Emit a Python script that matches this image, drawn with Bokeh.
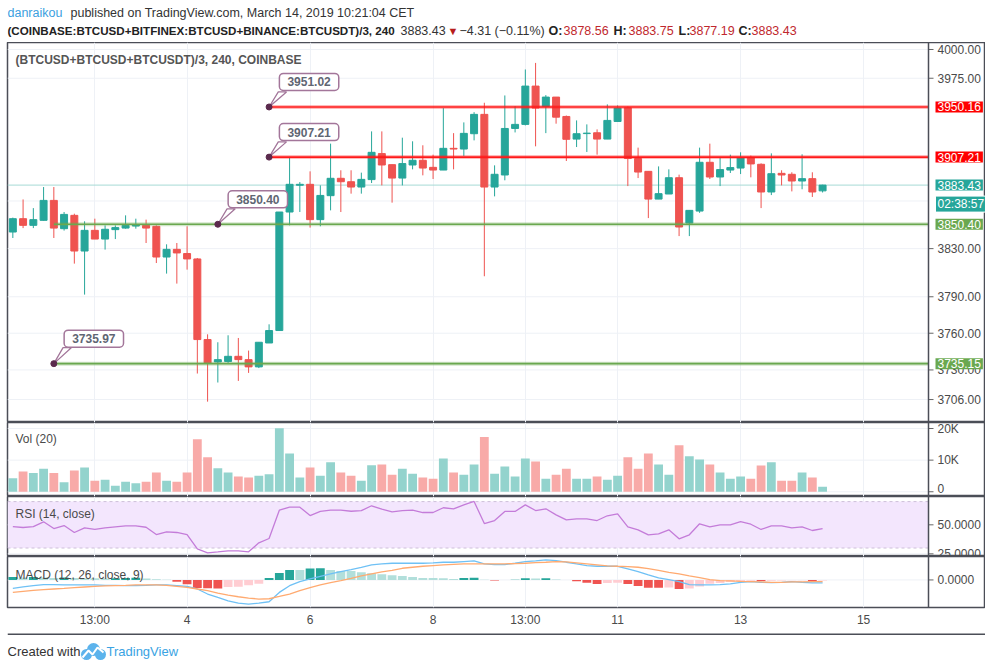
from bokeh.plotting import figure
from bokeh.models import ColumnDataSource, Range1d, FixedTicker, Label, Span, BoxAnnotation
from bokeh.layouts import column
from bokeh.embed import file_html
from bokeh.resources import INLINE
from bokeh.core.properties import value

# ---------------- data (4h candles, index 0 = Mar 1 05:00 CET) ----------------
OPEN = [3843.9, 3855.1, 3849.5, 3853.7, 3870.5, 3846.7, 3857.9, 3828.0, 3845.3, 3838.0,
        3845.9, 3847.2, 3848.9, 3849.5, 3848.7, 3823.0, 3829.4, 3825.9, 3821.4, 3754.8,
        3736.5, 3736.9, 3741.1, 3738.4, 3732.5, 3752.0, 3762.2, 3860.7, 3883.3, 3884.1,
        3854.3, 3874.5, 3889.2, 3886.3, 3881.8, 3888.1, 3910.2, 3900.8, 3889.4, 3900.5,
        3904.5, 3898.5, 3896.2, 3914.7, 3914.1, 3927.2, 3943.8, 3881.8, 3892.0, 3931.7,
        3935.2, 3968.2, 3950.6, 3958.7, 3942.0, 3922.6, 3927.3, 3928.0, 3922.6, 3937.7,
        3949.5, 3906.0, 3895.1, 3871.6, 3875.9, 3889.7, 3851.4, 3861.5, 3902.8, 3890.3,
        3896.2, 3897.9, 3906.5, 3901.1, 3877.6, 3893.4, 3892.6, 3886.9, 3888.9, 3878.56]
HIGH = [3856.0, 3871.3, 3864.0, 3881.8, 3881.8, 3860.7, 3859.3, 3852.9, 3855.1, 3849.5,
        3849.5, 3857.9, 3855.1, 3854.3, 3849.5, 3833.6, 3834.7, 3848.7, 3822.2, 3759.1,
        3752.6, 3758.3, 3756.1, 3745.8, 3752.6, 3767.3, 3860.7, 3906.8, 3886.0, 3895.1,
        3883.2, 3918.7, 3896.0, 3896.0, 3894.0, 3929.2, 3929.2, 3900.8, 3923.8, 3920.7,
        3917.3, 3909.3, 3949.2, 3927.7, 3936.9, 3945.7, 3953.8, 3900.2, 3960.1, 3950.9,
        3982.6, 3988.3, 3960.4, 3958.7, 3942.8, 3938.6, 3935.2, 3930.9, 3952.4, 3951.5,
        3950.6, 3915.3, 3895.1, 3899.3, 3896.8, 3892.3, 3862.1, 3915.3, 3918.7, 3906.5,
        3909.3, 3911.3, 3908.5, 3901.9, 3910.4, 3896.0, 3894.3, 3909.6, 3894.3, 3883.75]
LOW = [3838.9, 3847.2, 3847.2, 3853.5, 3838.9, 3845.1, 3817.5, 3791.8, 3838.0, 3829.2,
       3838.0, 3846.7, 3846.7, 3834.7, 3818.0, 3809.2, 3800.9, 3812.5, 3727.1, 3704.3,
       3719.8, 3735.7, 3721.1, 3727.6, 3731.5, 3752.0, 3762.2, 3849.5, 3860.7, 3847.6,
       3848.7, 3862.1, 3860.7, 3876.2, 3876.2, 3885.2, 3883.2, 3868.6, 3883.2, 3896.8,
       3891.7, 3888.6, 3896.2, 3896.8, 3908.2, 3921.5, 3807.0, 3873.9, 3887.5, 3928.3,
       3934.3, 3916.4, 3927.7, 3935.8, 3903.9, 3915.8, 3911.6, 3909.3, 3922.6, 3937.7,
       3882.6, 3889.4, 3855.6, 3871.6, 3875.9, 3840.5, 3840.5, 3860.0, 3888.6, 3882.6,
       3893.7, 3892.8, 3890.0, 3864.0, 3875.0, 3883.2, 3878.1, 3879.9, 3873.4, 3877.19]
CLOSE = [3855.1, 3849.5, 3854.3, 3870.5, 3847.2, 3858.7, 3828.0, 3845.3, 3838.0, 3846.2,
         3847.6, 3849.5, 3850.1, 3847.2, 3823.0, 3829.4, 3826.4, 3821.4, 3754.8, 3735.7,
         3738.4, 3741.1, 3738.4, 3732.5, 3752.6, 3762.2, 3860.7, 3884.1, 3884.1, 3854.3,
         3874.7, 3889.2, 3886.3, 3881.8, 3888.3, 3911.3, 3900.5, 3889.4, 3901.7, 3904.5,
         3897.9, 3896.2, 3914.7, 3914.1, 3927.5, 3943.8, 3881.8, 3892.6, 3931.7, 3935.2,
         3968.2, 3949.2, 3958.7, 3941.4, 3922.4, 3927.2, 3927.7, 3922.6, 3938.6, 3949.2,
         3906.0, 3894.5, 3871.6, 3876.2, 3889.7, 3848.1, 3862.1, 3902.8, 3890.3, 3896.6,
         3898.3, 3906.5, 3901.4, 3877.6, 3893.1, 3892.0, 3886.9, 3888.9, 3877.6, 3883.43]
VOLUME = [4300, 6400, 5900, 7300, 5900, 3000, 6700, 7700, 3500, 3800,
          1900, 3200, 2700, 3200, 6100, 3500, 3200, 6100, 16600, 10900,
          7400, 6100, 4800, 4500, 5100, 5500, 20100, 12100, 4500, 7700,
          5100, 9300, 6100, 5100, 3500, 8400, 8600, 5400, 7300, 5700,
          4500, 4100, 10500, 6100, 5400, 8600, 17300, 5700, 8000, 4800,
          10500, 9600, 4100, 5400, 7300, 4100, 4100, 4800, 3800, 5100,
          10900, 7300, 12100, 8600, 5400, 14700, 11200, 10200, 8600, 6100,
          4100, 4800, 4100, 8300, 9300, 3500, 3500, 6100, 4500, 1600]
RSI = [48.5, 47.7, 48.5, 52.6, 46.8, 49.4, 43.4, 47.4, 46.0, 47.4,
       48.3, 49.1, 49.1, 47.9, 41.6, 44.0, 43.4, 41.6, 29.3, 25.9,
       26.7, 27.6, 27.6, 26.7, 34.5, 38.2, 62.6, 65.2, 65.2, 58.0,
       61.5, 62.6, 62.6, 61.7, 62.2, 66.4, 63.5, 61.2, 62.2, 62.6,
       60.6, 60.6, 64.7, 63.8, 67.2, 70.1, 51.1, 53.7, 61.5, 61.5,
       67.2, 62.3, 63.8, 58.6, 54.3, 55.2, 55.2, 53.7, 57.8, 59.5,
       48.3, 45.7, 41.4, 42.2, 45.7, 37.9, 41.4, 50.9, 48.3, 50.0,
       50.0, 52.8, 50.5, 46.0, 49.1, 49.1, 47.4, 48.3, 45.1, 46.8]
MACD = [-8.4, -7.0, -5.7, -4.7, -4.7, -5.0, -5.0, -5.0, -5.0, -5.4,
        -5.4, -5.7, -5.7, -5.4, -5.0, -5.0, -5.7, -6.4, -9.0, -14.0,
        -17.4, -20.7, -23.0, -24.0, -23.0, -21.7, -12.4, -5.7, -1.7, 1.0,
        3.6, 6.0, 8.3, 10.3, 12.6, 15.0, 16.0, 16.6, 16.6, 16.6,
        16.6, 17.0, 17.6, 17.6, 18.3, 19.0, 16.0, 15.3, 15.3, 16.6,
        18.3, 19.0, 20.0, 19.3, 17.6, 16.0, 14.3, 13.6, 13.6, 13.6,
        11.0, 8.3, 5.0, 2.0, 0.3, -1.7, -4.7, -5.0, -5.0, -4.7,
        -4.0, -2.4, -1.7, -2.4, -2.7, -2.4, -1.7, -2.4, -3.0, -3.0]
SIGNAL = [-12.4, -11.4, -10.4, -9.7, -9.0, -8.4, -7.7, -7.0, -6.4, -6.0,
          -5.7, -5.4, -5.0, -5.0, -5.0, -5.4, -6.4, -7.4, -9.0, -10.7,
          -13.0, -15.0, -16.7, -18.0, -19.0, -18.7, -16.4, -14.0, -10.7, -7.7,
          -5.0, -2.7, -0.7, 1.6, 4.0, 6.0, 8.0, 9.6, 11.6, 12.6,
          13.6, 14.3, 15.0, 15.5, 16.0, 16.0, 16.0, 16.0, 16.0, 16.3,
          16.6, 17.3, 17.6, 18.3, 18.0, 17.0, 16.0, 15.0, 14.0, 13.6,
          13.3, 12.6, 11.3, 9.6, 7.6, 6.0, 4.0, 2.3, 0.3, -0.7,
          -1.0, -1.4, -1.7, -2.0, -2.4, -2.4, -2.0, -2.0, -1.7, -1.7]
HIST = [3.0, 2.5, 3.0, 2.5, 2.0, 2.3, 2.0, 1.8, 1.6, 1.5,
        1.8, 2.0, 2.1, 1.5, 0.6, 0.2, -1.7, -4.3, -8.0, -8.3,
        -8.5, -7.0, -6.8, -5.3, -3.7, 2.0, 7.0, 10.0, 9.8, 11.3,
        11.6, 10.0, 9.0, 8.8, 7.7, 6.7, 5.7, 4.7, 4.0, 3.0,
        2.0, 1.9, 1.8, 1.0, 2.0, 2.1, 0.3, -0.6, 0.0, 0.1,
        1.7, 1.5, 1.8, 0.5, 0.05, -1.3, -2.7, -4.0, -3.0, -2.7,
        -4.0, -6.0, -7.7, -7.8, -7.5, -9.0, -8.5, -6.5, -3.7, -3.0,
        -2.0, -1.0, -0.7, -1.0, -0.7, -0.5, -0.4, -0.3, -1.0, -0.6]

X_TICKS = [8, 17, 29, 41, 50, 59, 71, 83]
X_LABELS = ["13:00", "4", "6", "8", "13:00", "11", "13", "15"]
PRICE_TICKS = [3706, 3730, 3760, 3790, 3830, 3975, 4000]
PRICE_GRID = [3706, 3730, 3760, 3790, 3830, 3870, 3975, 4000]
VOL_TICKS = [0, 10000, 20000]
VOL_LABELS = ["0", "10K", "20K"]
RSI_TICKS = [25, 50]
MACD_TICKS = [0]

LEVEL_PRICE = [3950.16, 3907.21, 3850.40, 3735.15]
LEVEL_START = [25, 25, 4, 4]
LEVEL_KIND = ["red", "red", "green", "green"]
CALLOUT_IDX = [25, 25, 20, 4]
CALLOUT_PRICE = [3950.16, 3907.21, 3850.40, 3735.15]
CALLOUT_TEXT = ["3951.02", "3907.21", "3850.40", "3735.97"]
LAST_PRICE = 3883.43
TIMER_TEXT = "02:38:57"

# ---------------- styles / geometry ----------------
FONT = "Liberation Sans"
TEAL = "#26a69a"
RED = "#ef5350"
LINE_RED = "#ff1a1a"
LINE_GREEN = "#6aa84f"
BORDER = "#4b4e57"
GRID = "#eef1f6"
AXIS_TXT = "#4a4a4a"
LEFT = 7            # left page offset of the chart frames
PANE_W = 921        # plotting area width (px)
FULL_W = 978        # plotting area + price scale column (px)
PX_BAR = 10.25      # px per candle
X0 = -0.52
XR = Range1d(X0, X0 + FULL_W / PX_BAR)
AXIS_X = X0 + PANE_W / PX_BAR
TICK_LEN = 5 / PX_BAR

n = len(CLOSE)
IDX = list(range(n))
UP = [c >= o for o, c in zip(OPEN, CLOSE)]
cand_col = [TEAL if u else RED for u in UP]
vol_col = ["#93d3cd" if u else "#f8aaa8" for u in UP]
hist_col = []
prev = None
for h in HIST:
    if h >= 0:
        hist_col.append("#26a69a" if (prev is None or h >= prev) else "#b2dfdb")
    else:
        hist_col.append("#ef5350" if (prev is not None and h < prev) else "#ffcdd2")
    prev = h


def pane(h, yr, ylog=False, xaxis=False):
    p = figure(frame_width=FULL_W, frame_height=h, x_range=XR, y_range=yr,
               y_axis_type="log" if ylog else "linear", y_axis_location=None,
               x_axis_location="below" if xaxis else None,
               output_backend="svg", toolbar_location=None,
               min_border_left=LEFT, min_border_right=0, min_border_top=0,
               min_border_bottom=26 if xaxis else 0)
    p.outline_line_color = BORDER
    p.outline_line_width = 1.5
    p.background_fill_color = "white"
    p.border_fill_color = "white"
    p.ygrid.visible = False
    p.xgrid.grid_line_color = GRID
    p.xgrid.ticker = FixedTicker(ticks=X_TICKS)
    if xaxis:
        xa = p.xaxis[0]
        xa.ticker = FixedTicker(ticks=X_TICKS)
        xa.major_label_overrides = {t: l for t, l in zip(X_TICKS, X_LABELS)}
        xa.axis_line_color = None
        xa.major_tick_line_color = None
        xa.minor_tick_line_color = None
        xa.major_tick_out = 0
        xa.major_tick_in = 0
        xa.minor_tick_out = 0
        xa.major_label_standoff = 5
        xa.major_label_text_font = FONT
        xa.major_label_text_font_size = "12px"
        xa.major_label_text_color = AXIS_TXT
    return p


def price_scale(p, ticks, labels, grid_ticks=None, label_dy=None):
    gt = grid_ticks if grid_ticks is not None else ticks
    dy = label_dy if label_dy is not None else [0] * len(ticks)
    p.segment(x0=[X0] * len(gt), x1=[AXIS_X] * len(gt), y0=gt, y1=gt,
              line_color=GRID, line_width=1, level="underlay")
    p.segment(x0=[AXIS_X] * len(ticks), x1=[AXIS_X + TICK_LEN] * len(ticks), y0=ticks, y1=ticks,
              line_color="#666666", line_width=1)
    p.text(x=[AXIS_X] * len(ticks), y=ticks, text=labels, x_offset=9, y_offset=dy,
           text_font=value(FONT), text_font_size=value("12px"), text_color=AXIS_TXT,
           text_baseline="middle", text_align="left")
    p.add_layout(Span(location=AXIS_X, dimension="height", line_color=BORDER, line_width=1.5))


def pane_title(p, text, yr, dy, bold=False, color="#4a4a4a"):
    p.add_layout(Label(x=X0, y=yr.end, x_offset=8, y_offset=-dy, text=text,
                       text_font=FONT, text_font_size="12px", text_color=color,
                       text_font_style="bold" if bold else "normal",
                       text_baseline="middle", text_align="left"))


def strip(h):
    p = figure(frame_width=FULL_W, frame_height=h, x_range=Range1d(0, FULL_W), y_range=Range1d(0, h),
               x_axis_location=None, y_axis_location=None, min_border=0, min_border_left=LEFT,
               output_backend="svg", toolbar_location=None)
    p.outline_line_color = None
    p.grid.visible = False
    p.background_fill_color = "white"
    p.border_fill_color = "white"
    return p


# ---------------- header ----------------
hdr = strip(42)
H1 = [("danraikou", "#3ba0e0", "normal", 0),
      ("published on TradingView.com, March 14, 2019 10:21:04 CET", "#333333", "normal", 63)]
for t, c, s, x in H1:
    hdr.add_layout(Label(x=x, y=30, x_units="screen", y_units="screen", text=t, text_color=c,
                         text_font=FONT, text_font_size="12.5px", text_font_style=s,
                         text_baseline="middle"))
H2 = [("(COINBASE:BTCUSD+BITFINEX:BTCUSD+BINANCE:BTCUSDT)/3, 240", "#222222", "bold", 0, "11.6px"),
      ("3883.43", "#333333", "normal", 393, "12.5px"),
      ("\u25bc", "#b71c1c", "normal", 440, "11px"),
      ("\u22124.31 (\u22120.11%)", "#333333", "normal", 452, "12.5px"),
      ("O:", "#222222", "bold", 541, "12.5px"),
      ("3878.56", "#c0282d", "normal", 556, "12.5px"),
      ("H:", "#222222", "bold", 606, "12.5px"),
      ("3883.75", "#c0282d", "normal", 621, "12.5px"),
      ("L:", "#222222", "bold", 671, "12.5px"),
      ("3877.19", "#c0282d", "normal", 682, "12.5px"),
      ("C:", "#222222", "bold", 731, "12.5px"),
      ("3883.43", "#c0282d", "normal", 744, "12.5px")]
for t, c, s, x, fs in H2:
    hdr.add_layout(Label(x=x, y=12, x_units="screen", y_units="screen", text=t, text_color=c,
                         text_font=FONT, text_font_size=fs, text_font_style=s,
                         text_baseline="middle"))

# ---------------- main price pane ----------------
YR_MAIN = Range1d(3687.5, 4006.1)
main = pane(380, YR_MAIN, ylog=True)
price_scale(main, PRICE_TICKS, [f"{t:.2f}" for t in PRICE_TICKS], PRICE_GRID)

main.segment(x0=[X0], x1=[AXIS_X], y0=[LAST_PRICE], y1=[LAST_PRICE], line_color="#a6dbd6", line_width=1)

src = ColumnDataSource(dict(x=IDX, h=HIGH, l=LOW,
                            top=[max(o, c) for o, c in zip(OPEN, CLOSE)],
                            bot=[min(o, c) for o, c in zip(OPEN, CLOSE)],
                            col=cand_col))
main.segment(x0="x", y0="l", x1="x", y1="h", line_color="col", line_width=1, source=src)
main.vbar(x="x", width=0.68, top="top", bottom="bot", fill_color="col", line_color="col",
          line_width=1, source=src)

for price, start, kind in zip(LEVEL_PRICE, LEVEL_START, LEVEL_KIND):
    col = LINE_RED if kind == "red" else LINE_GREEN
    main.segment(x0=[start], y0=[price], x1=[AXIS_X], y1=[price], line_color=col,
                 line_width=4, line_alpha=0.3)
    main.segment(x0=[start], y0=[price], x1=[AXIS_X], y1=[price], line_color=col,
                 line_width=1.6)

# callout tails, dots and boxes
tail_xs = [[i, i + 0.9, i + 1.7] for i in CALLOUT_IDX]
tail_ys = [[p, p + 13, p + 13] for p in CALLOUT_PRICE]
main.patches(xs=tail_xs, ys=tail_ys, fill_color="white", line_color="#a3769a", line_width=1.3)
main.scatter(x=CALLOUT_IDX, y=CALLOUT_PRICE, size=6, fill_color="#5b2a4d", line_color="#5b2a4d")
for i, p, t in zip(CALLOUT_IDX, CALLOUT_PRICE, CALLOUT_TEXT):
    main.add_layout(Label(x=i, y=p, x_offset=40, y_offset=25, text=t, text_font=FONT,
                          text_font_size="12px", text_font_style="bold", text_color="#5f6673",
                          text_align="center", text_baseline="middle",
                          background_fill_color="white", border_line_color="#a3769a",
                          border_line_width=1.5, border_radius=4,
                          padding=dict(left=8, right=8, top=4, bottom=4)))

# price-scale tags
TAGS = [(3950.16, "3950.16", "#ff0000", 0, None),
        (3907.21, "3907.21", "#ff0000", 0, None),
        (LAST_PRICE, "3883.43", TEAL, 0, None),
        (LAST_PRICE, TIMER_TEXT, TEAL, -19, "white"),
        (3850.40, "3850.40", LINE_GREEN, 0, None),
        (3735.15, "3735.15", LINE_GREEN, 0, None)]
for v, t, bg, yoff, brd in TAGS:
    main.add_layout(Label(x=AXIS_X, y=v, x_offset=7, y_offset=yoff, text=t, text_color="white",
                          text_font=FONT, text_font_size="12px", text_baseline="middle",
                          text_align="left", background_fill_color=bg,
                          border_line_color=brd, border_line_width=1,
                          padding=dict(left=2, right=2, top=1, bottom=1)))

pane_title(main, "(BTCUSD+BTCUSD+BTCUSDT)/3, 240, COINBASE", YR_MAIN, 17, bold=True, color="#555555")

# ---------------- volume pane ----------------
YR_VOL = Range1d(-1500, 21900)
vol = pane(74, YR_VOL)
price_scale(vol, VOL_TICKS, VOL_LABELS, label_dy=[-3, 0, 0])
vol.vbar(x=IDX, top=VOLUME, bottom=0, width=0.86, fill_color=vol_col, line_color=None)
pane_title(vol, "Vol (20)", YR_VOL, 16)

# ---------------- RSI pane ----------------
YR_RSI = Range1d(22.7, 74.4)
rsi = pane(60, YR_RSI)
rsi.add_layout(BoxAnnotation(left=X0, right=AXIS_X, bottom=30, top=70, fill_color="#f3e6fd",
                             fill_alpha=1, line_color=None, level="underlay"))
rsi.segment(x0=[X0, X0], x1=[AXIS_X, AXIS_X], y0=[30, 70], y1=[30, 70], line_color="#cdbfd9",
            line_dash="3 3", line_width=1)
price_scale(rsi, RSI_TICKS, [f"{t:.4f}" for t in RSI_TICKS])
rsi.line(IDX, RSI, line_color="#c47cd9", line_width=1.3)
pane_title(rsi, "RSI (14, close)", YR_RSI, 17)

# ---------------- MACD pane ----------------
YR_MACD = Range1d(-27.4, 23.3)
macd = pane(51, YR_MACD, xaxis=True)
price_scale(macd, MACD_TICKS, [f"{t:.4f}" for t in MACD_TICKS])
macd.vbar(x=IDX, top=HIST, bottom=0, width=0.86, fill_color=hist_col, line_color=None)
macd.line(IDX, MACD, line_color="#6fc1f5", line_width=1.3)
macd.line(IDX, SIGNAL, line_color="#ffaa70", line_width=1.3)
pane_title(macd, "MACD (12, 26, close, 9)", YR_MACD, 18)

# ---------------- footer ----------------
ftr = strip(35)
ftr.segment(x0=[0], x1=[FULL_W], y0=[35], y1=[35], line_color=BORDER, line_width=3)
# small TradingView-style logo
ftr.scatter(x=[79, 86, 93], y=[14, 19, 14], size=[11, 13, 11], fill_color="#5cb3ec", line_color=None)
ftr.line(x=[75, 81, 85, 90, 96], y=[11, 18, 14, 21, 16], line_color="white", line_width=2)
ftr.add_layout(Label(x=0, y=17, x_units="screen", y_units="screen", text="Created with",
                     text_color="#333333", text_font=FONT, text_font_size="13px",
                     text_baseline="middle"))
ftr.add_layout(Label(x=99, y=17, x_units="screen", y_units="screen", text="TradingView",
                     text_color="#3aa3e3", text_font=FONT, text_font_size="13px",
                     text_baseline="middle"))

layout = column(hdr, main, vol, rsi, macd, ftr, spacing=0)
open("out.html", "w").write(file_html(layout, INLINE))
